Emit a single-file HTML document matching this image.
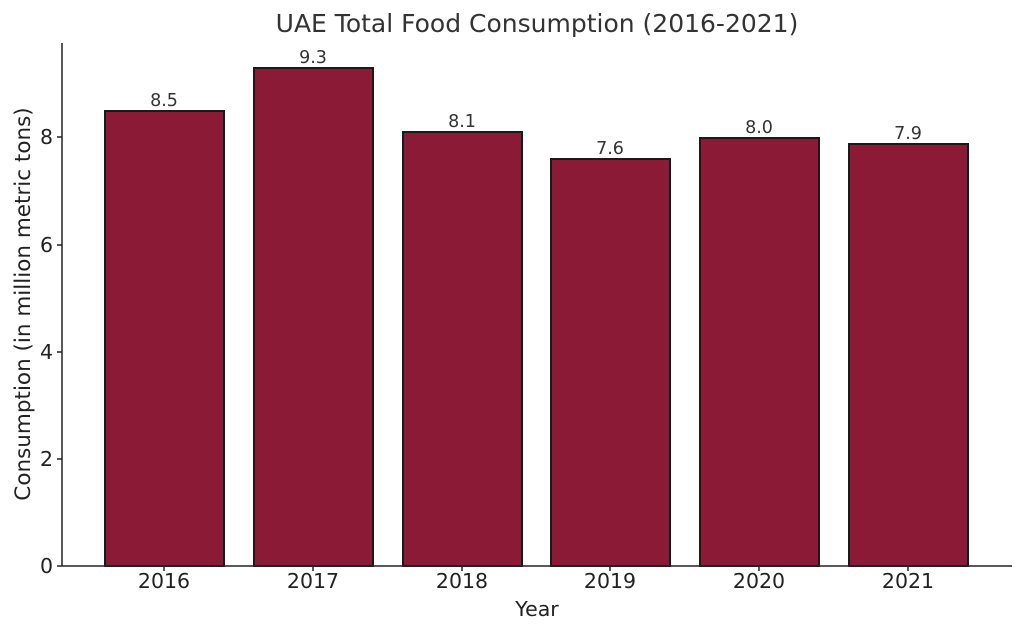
<!DOCTYPE html>
<html><head><style>body{margin:0;background:#fff}</style></head><body>
<svg width="1024" height="635" xmlns="http://www.w3.org/2000/svg" font-family="DejaVu Sans, Liberation Sans, sans-serif">
<rect width="1024" height="635" fill="#fff"/>
<text x="537" y="32" text-anchor="middle" font-size="25" fill="#333">UAE Total Food Consumption (2016-2021)</text>
<g fill="#8B1A37" stroke="#1a1a1a" stroke-width="2">
<rect x="105" y="111" width="119" height="455"/>
<rect x="254" y="68" width="119" height="498"/>
<rect x="403" y="132" width="119" height="434"/>
<rect x="551" y="159" width="119" height="407"/>
<rect x="700" y="138" width="119" height="428"/>
<rect x="849" y="144" width="119" height="422"/>
</g>
<g font-size="17.5" fill="#333" text-anchor="middle">
<text x="164" y="106">8.5</text><text x="313" y="63">9.3</text><text x="462" y="127">8.1</text>
<text x="610" y="154">7.6</text><text x="759" y="133">8.0</text><text x="908" y="139">7.9</text>
</g>
<g stroke="#222" stroke-width="1.5">
<line x1="62" y1="43" x2="62" y2="566"/><line x1="62" y1="566" x2="1012" y2="566"/>
<line x1="57" y1="566" x2="62" y2="566"/><line x1="57" y1="459" x2="62" y2="459"/>
<line x1="57" y1="352" x2="62" y2="352"/><line x1="57" y1="245" x2="62" y2="245"/>
<line x1="57" y1="137" x2="62" y2="137"/>
<line x1="164" y1="566" x2="164" y2="571"/><line x1="313" y1="566" x2="313" y2="571"/>
<line x1="462" y1="566" x2="462" y2="571"/><line x1="610" y1="566" x2="610" y2="571"/>
<line x1="759" y1="566" x2="759" y2="571"/><line x1="908" y1="566" x2="908" y2="571"/>
</g>
<g font-size="20.5" fill="#222" text-anchor="end">
<text x="53" y="573">0</text><text x="53" y="466">2</text><text x="53" y="359">4</text>
<text x="53" y="252">6</text><text x="53" y="144">8</text>
</g>
<g font-size="20.5" fill="#222" text-anchor="middle">
<text x="164" y="588">2016</text><text x="313" y="588">2017</text><text x="462" y="588">2018</text>
<text x="610" y="588">2019</text><text x="759" y="588">2020</text><text x="908" y="588">2021</text>
<text x="537" y="616">Year</text>
<text transform="translate(30,304) rotate(-90)" font-size="21.5">Consumption (in million metric tons)</text>
</g>
</svg>
</body></html>
